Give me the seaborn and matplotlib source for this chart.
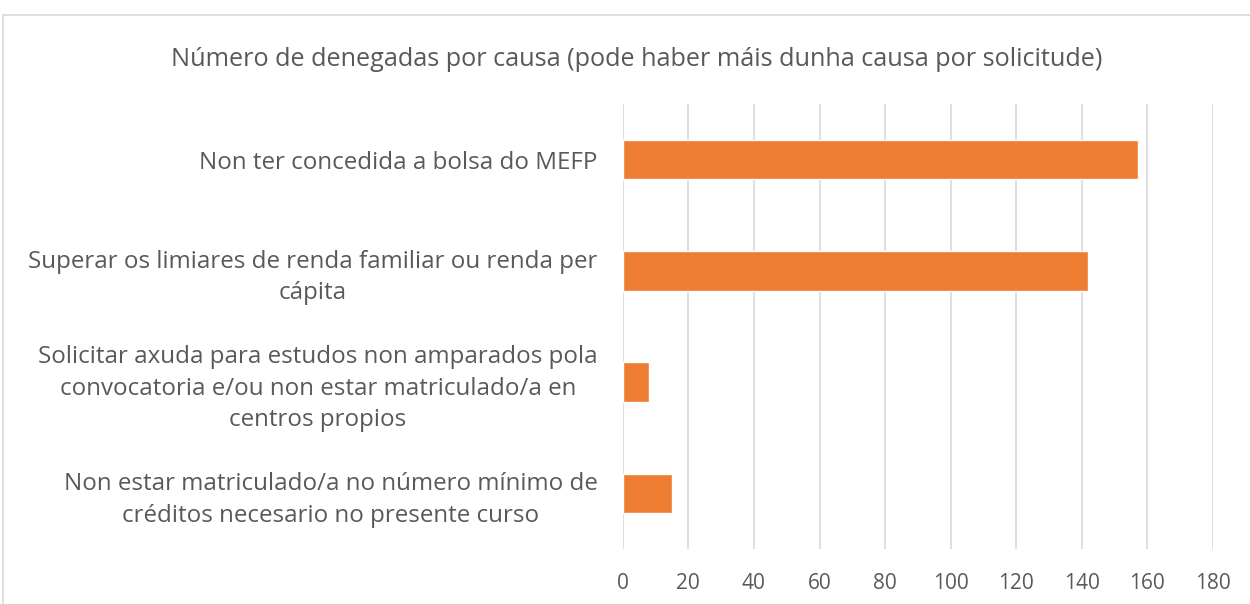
import pandas as pd
import matplotlib.pyplot as plt
import seaborn as sns
from matplotlib.patches import Rectangle

# Datos
causas = [
    'Non ter concedida a bolsa do MEFP',
    'Superar os limiares de renda familiar ou renda per\ncápita',
    'Solicitar axuda para estudos non amparados pola\nconvocatoria e/ou non estar matriculado/a en\ncentros propios',
    'Non estar matriculado/a no número mínimo de\ncréditos necesario no presente curso',
]
denegadas = [157, 142, 8, 15]
ticks_x = [0, 20, 40, 60, 80, 100, 120, 140, 160, 180]

df = pd.DataFrame({'causa': causas, 'n': denegadas})

sns.set_style('white')
plt.rcParams['font.family'] = ['Open Sans', 'DejaVu Sans']
gris = '#595959'

fig = plt.figure(figsize=(12.5, 6.04), dpi=100)
ax = fig.add_axes([0.4982, 0.0911, 0.4722, 0.7367])

sns.barplot(data=df, x='n', y='causa', color='#ED7D31', width=0.355,
            saturation=1, ax=ax, orient='h')

ax.set_xlim(0, 180)
ax.set_xticks(ticks_x)
ax.set_ylim(3.5, -0.5)
ax.set_xlabel('')
ax.set_ylabel('')
ax.grid(axis='x', color='#D9D9D9', linewidth=1.2)
ax.set_axisbelow(True)
for s in ax.spines.values():
    s.set_visible(False)
ax.tick_params(axis='x', length=0, colors=gris, labelsize=15, pad=17)
ax.tick_params(axis='y', length=0, colors=gris, labelsize=17.4, pad=18)
for lab in ax.get_yticklabels():
    lab.set_multialignment('center')
    lab.set_linespacing(1.42)

fig.text(0.5096, 0.902, 'Número de denegadas por causa (pode haber máis dunha causa por solicitude)',
         ha='center', va='center', fontsize=18.2, color=gris)

# marco do gráfico
fig.patches.append(Rectangle((3 / 1250, -0.1), 1.2, 1 - 15 / 604 + 0.1,
                             transform=fig.transFigure, fill=False,
                             edgecolor='#D9D9D9', linewidth=1.2))

plt.savefig('out.png', dpi=100)
